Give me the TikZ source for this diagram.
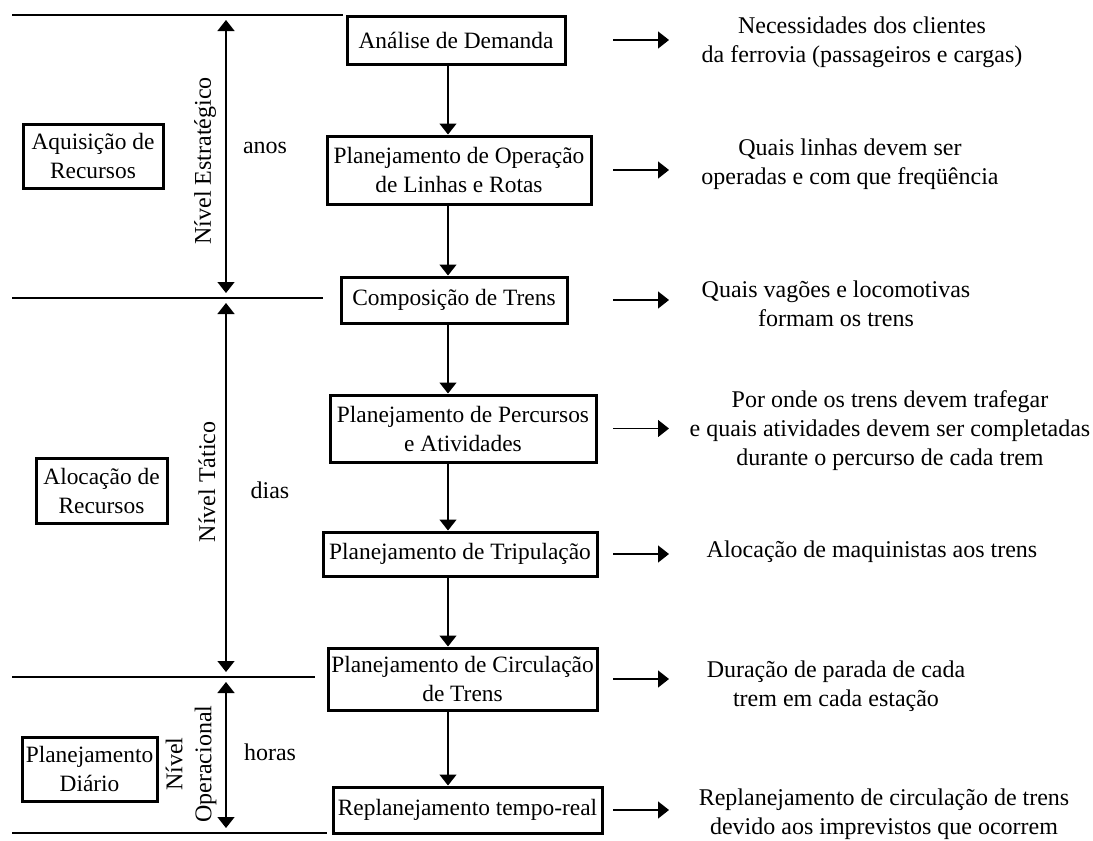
\documentclass[tikz,border=0pt]{standalone}
\usepackage{fontspec}
\setmainfont{Liberation Serif}
\usetikzlibrary{arrows.meta}

\begin{document}
\begin{tikzpicture}[x=0.5pt, y=-0.5pt, font=\fontsize{12}{14.5}\selectfont,
  main/.style = {draw, line width=1.5pt, align=center, inner sep=1pt, font=\fontsize{11.7}{14.5}\selectfont},
  note/.style = {align=center, inner sep=0pt},
  arr/.style = {line width=0.7pt, -{Triangle[length=5.5pt, width=8.5pt]}},
  both/.style = {line width=0.7pt, {Triangle[length=5.5pt, width=8.5pt]}-{Triangle[length=5.5pt, width=8.5pt]}},
  sep/.style = {line width=0.9pt}]
  \useasboundingbox (0,0) rectangle (1093,841);
  \coordinate (col) at (448,0);
  \coordinate (outL) at (613,0);
  \coordinate (outR) at (669,0);
  \coordinate (lv0) at (226,15);
  \coordinate (lv1) at (226,298);
  \coordinate (lv2) at (226,677);
  \coordinate (lv3) at (226,833);
  % separadores
  \draw[sep] (12,15) -- (343,15);
  \draw[sep] (12,298) -- (323,298);
  \draw[sep] (12,677) -- (315,677);
  \draw[sep] (12,833) -- (327,833);
  \draw[both, shorten <=2.5pt, shorten >=2.5pt] (lv0) -- (lv1);
  \draw[both, shorten <=2.5pt, shorten >=2.5pt] (lv1) -- (lv2);
  \draw[both, shorten <=2.5pt, shorten >=2.5pt] (lv2) -- (lv3);
  % niveis
  \node[main, minimum width=70pt, minimum height=32pt] (a) at (93,156) {Aquisição de\\Recursos};
  \node[main, minimum width=65.5pt, minimum height=32.5pt] (b) at (101.5,490.5) {Alocação de\\Recursos};
  \node[main, minimum width=67.5pt, minimum height=32pt] (c) at (89.5,769) {Planejamento\\Diário};
  \node[rotate=90] (na) at (205,161) {Nível Estratégico};
  \node[rotate=90] (nb) at (207,482) {Nível Tático};
  \node[rotate=90, align=center] (nc) at (191,764) {Nível\\Operacional};
  \node (ta) at (265,148) {anos};
  \node (tb) at (270,490) {dias};
  \node (tc) at (270,752) {horas};
  % etapas
  \node[main, minimum width=109pt, minimum height=24pt] (1) at (456,40) {Análise de Demanda};
  \node[main, minimum width=132pt, minimum height=34pt] (2) at (459,170) {Planejamento de Operação\\de Linhas e Rotas};
  \node[main, minimum width=113pt, minimum height=23pt] (3) at (454,300) {Composição de Trens};
  \node[main, minimum width=133pt, minimum height=33.5pt] (4) at (463,428.5) {Planejamento de Percursos\\e Atividades};
  \node[main, minimum width=137pt, minimum height=22pt] (5) at (460,554) {Planejamento de Tripulação};
  \node[main, minimum width=134.5pt, minimum height=31pt] (6) at (462.5,679) {Planejamento de Circulação\\de Trens};
  \node[main, minimum width=134.5pt, minimum height=23pt] (7) at (467.5,810) {Replanejamento tempo-real};
  \draw[arr] (1.south -| col) -- (2.north -| col);
  \draw[arr] (2.south -| col) -- (3.north -| col);
  \draw[arr] (3.south -| col) -- (4.north -| col);
  \draw[arr] (4.south -| col) -- (5.north -| col);
  \draw[arr] (5.south -| col) -- (6.north -| col);
  \draw[arr] (6.south -| col) -- (7.north -| col);
  % resultados
  \node[note] (r1) at (862,42) {Necessidades dos clientes\\da ferrovia (passageiros e cargas)};
  \node[note] (r2) at (850,164) {Quais linhas devem ser\\operadas e com que freqüência};
  \node[note] (r3) at (836,304) {Quais vagões e locomotivas\\formam os trens};
  \node[note] (r4) at (890,431) {Por onde os trens devem trafegar\\e quais atividades devem ser completadas\\durante o percurso de cada trem};
  \node[note] (r5) at (872,552) {Alocação de maquinistas aos trens};
  \node[note] (r6) at (836,686) {Duração de parada de cada\\trem em cada estação};
  \node[note] (r7) at (884,814) {Replanejamento de circulação de trens\\devido aos imprevistos que ocorrem};
  \draw[arr] (1 -| outL) -- (1 -| outR);
  \draw[arr] (2 -| outL) -- (2 -| outR);
  \draw[arr] (3 -| outL) -- (3 -| outR);
  \draw[arr] (4 -| outL) -- (4 -| outR);
  \draw[arr] (5 -| outL) -- (5 -| outR);
  \draw[arr] (6 -| outL) -- (6 -| outR);
  \draw[arr] (7 -| outL) -- (7 -| outR);
\end{tikzpicture}
\end{document}
